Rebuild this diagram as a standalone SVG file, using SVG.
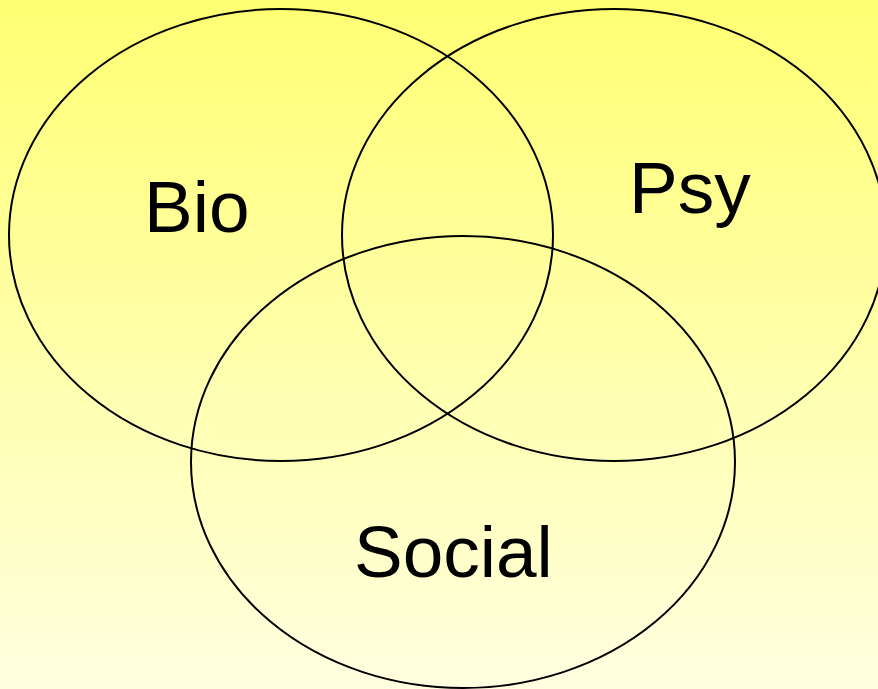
<svg xmlns="http://www.w3.org/2000/svg" width="878" height="689" viewBox="0 0 878 689">
<defs>
<linearGradient id="bg" x1="0" y1="0" x2="0" y2="1">
<stop offset="0" stop-color="#FFFF73"/>
<stop offset="1" stop-color="#FFFFE0"/>
</linearGradient>
</defs>
<style>
.c{fill:none;stroke:#000;stroke-width:2}
.t{font-family:"Liberation Sans",Arial,sans-serif;font-size:73px;fill:#000}
</style>
<rect x="0" y="0" width="878" height="689" fill="url(#bg)"/>
<g id="bio"><ellipse class="c" cx="281" cy="235" rx="272" ry="226"/><text class="t" x="144" y="232">Bio</text></g>
<g id="psy"><ellipse class="c" cx="614" cy="235" rx="272" ry="226"/><text class="t" x="629" y="213">Psy</text></g>
<g id="social"><ellipse class="c" cx="463" cy="462" rx="272" ry="226"/><text class="t" x="354" y="577">Social</text></g>
</svg>
